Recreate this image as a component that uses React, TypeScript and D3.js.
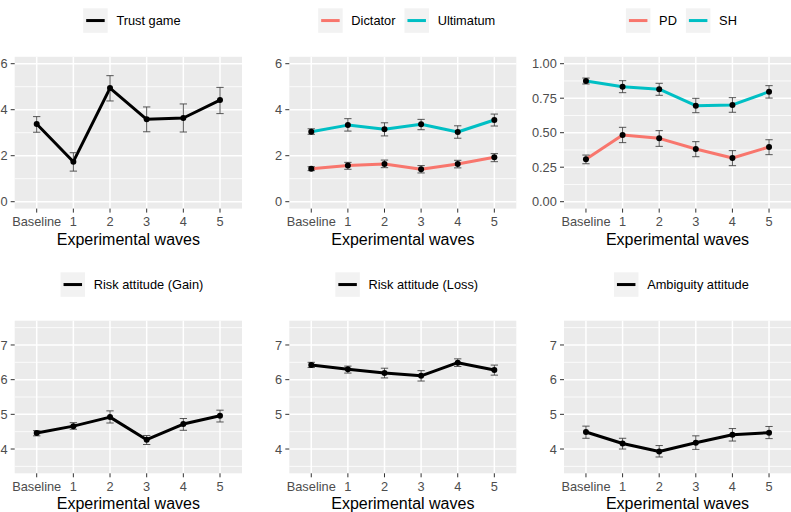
import React from "react";
import * as d3 from "d3";

const waves = ["Baseline", "1", "2", "3", "4", "5"];

// Trust game
const trustMean = [3.38, 1.74, 4.94, 3.58, 3.64, 4.42];
const trustLo = [3.02, 1.33, 4.38, 3.04, 3.03, 3.83];
const trustHi = [3.7, 2.13, 5.48, 4.12, 4.25, 4.97];

// Dictator / Ultimatum
const dictMean = [1.43, 1.57, 1.64, 1.41, 1.64, 1.93];
const dictLo = [1.35, 1.41, 1.48, 1.25, 1.47, 1.74];
const dictHi = [1.52, 1.71, 1.81, 1.57, 1.8, 2.09];
const ultMean = [3.04, 3.33, 3.15, 3.37, 3.03, 3.55];
const ultLo = [2.93, 3.07, 2.86, 3.13, 2.76, 3.29];
const ultHi = [3.17, 3.61, 3.43, 3.58, 3.3, 3.81];

// PD / SH
const pdMean = [0.307, 0.483, 0.459, 0.382, 0.317, 0.396];
const pdLo = [0.275, 0.428, 0.401, 0.326, 0.261, 0.341];
const pdHi = [0.338, 0.539, 0.515, 0.435, 0.37, 0.449];
const shMean = [0.875, 0.833, 0.815, 0.696, 0.701, 0.797];
const shLo = [0.853, 0.79, 0.771, 0.645, 0.648, 0.751];
const shHi = [0.896, 0.877, 0.858, 0.749, 0.754, 0.841];

// Risk attitude (Gain)
const gainMean = [4.46, 4.66, 4.92, 4.27, 4.72, 4.96];
const gainLo = [4.38, 4.57, 4.75, 4.13, 4.54, 4.78];
const gainHi = [4.53, 4.76, 5.1, 4.39, 4.88, 5.12];

// Risk attitude (Loss)
const lossMean = [6.42, 6.3, 6.19, 6.11, 6.49, 6.28];
const lossLo = [6.35, 6.19, 6.05, 5.96, 6.38, 6.13];
const lossHi = [6.5, 6.39, 6.33, 6.26, 6.6, 6.42];

// Ambiguity attitude
const ambMean = [4.49, 4.16, 3.93, 4.18, 4.41, 4.47];
const ambLo = [4.31, 4.0, 3.77, 3.99, 4.23, 4.3];
const ambHi = [4.66, 4.31, 4.1, 4.38, 4.59, 4.65];

const topTicks = [0, 2, 4, 6];
const topMinor = [1, 3, 5];
const propTicks = [0, 0.25, 0.5, 0.75, 1];
const propMinor = [0.125, 0.375, 0.625, 0.875];
const bottomTicks = [4, 5, 6, 7];
const bottomMinor = [3.5, 4.5, 5.5, 6.5, 7.5];

const RED = "#F8766D";
const CYAN = "#00BFC4";
const FONT = "'Liberation Sans', Arial, Helvetica, sans-serif";

type Series = { name: string; color: string; mean: number[]; lo: number[]; hi: number[] };
type PanelDef = {
  x0: number; x1: number; y0: number; y1: number;
  limits: [number, number];
  ticks: number[]; minor: number[]; fmt: (v: number) => string;
  series: Series[];
  legendCenter: number; legendTop: number;
};

const fmtInt = (v: number) => String(v);
const fmt2 = (v: number) => v.toFixed(2);

const panels: PanelDef[] = [
  { x0: 14.7, x1: 242, y0: 56.8, y1: 208.6, limits: [0, 6], ticks: topTicks, minor: topMinor, fmt: fmtInt,
    series: [{ name: "Trust game", color: "#000", mean: trustMean, lo: trustLo, hi: trustHi }],
    legendCenter: 131.9, legendTop: 8.3 },
  { x0: 289.3, x1: 516.3, y0: 56.8, y1: 208.6, limits: [0, 6], ticks: topTicks, minor: topMinor, fmt: fmtInt,
    series: [
      { name: "Dictator", color: RED, mean: dictMean, lo: dictLo, hi: dictHi },
      { name: "Ultimatum", color: CYAN, mean: ultMean, lo: ultLo, hi: ultHi },
    ],
    legendCenter: 406.7, legendTop: 8.3 },
  { x0: 564, x1: 791, y0: 56.8, y1: 208.6, limits: [0, 1], ticks: propTicks, minor: propMinor, fmt: fmt2,
    series: [
      { name: "PD", color: RED, mean: pdMean, lo: pdLo, hi: pdHi },
      { name: "SH", color: CYAN, mean: shMean, lo: shLo, hi: shHi },
    ],
    legendCenter: 681.4, legendTop: 8.3 },
  { x0: 14.7, x1: 242, y0: 320.7, y1: 473.3, limits: [3.5, 7.5], ticks: bottomTicks, minor: bottomMinor, fmt: fmtInt,
    series: [{ name: "Risk attitude (Gain)", color: "#000", mean: gainMean, lo: gainLo, hi: gainHi }],
    legendCenter: 131.9, legendTop: 272.3 },
  { x0: 289.3, x1: 516.3, y0: 320.7, y1: 473.3, limits: [3.5, 7.5], ticks: bottomTicks, minor: bottomMinor, fmt: fmtInt,
    series: [{ name: "Risk attitude (Loss)", color: "#000", mean: lossMean, lo: lossLo, hi: lossHi }],
    legendCenter: 406.7, legendTop: 272.3 },
  { x0: 564, x1: 791, y0: 320.7, y1: 473.3, limits: [3.5, 7.5], ticks: bottomTicks, minor: bottomMinor, fmt: fmtInt,
    series: [{ name: "Ambiguity attitude", color: "#000", mean: ambMean, lo: ambLo, hi: ambHi }],
    legendCenter: 681.4, legendTop: 272.3 },
];

let ctx: CanvasRenderingContext2D | null = null;
function textWidth(s: string, size: number) {
  if (!ctx) ctx = document.createElement("canvas").getContext("2d");
  if (!ctx) return s.length * size * 0.55;
  ctx.font = `${size}px ${FONT}`;
  return ctx.measureText(s).width;
}

const KEY = 24.5;
const KEY_GAP = 8.7;
const ITEM_GAP = 9;
const LEG_FS = 12.8;

function Legend({ p }: { p: PanelDef }) {
  const widths = p.series.map((s) => KEY + KEY_GAP + textWidth(s.name, LEG_FS));
  const total = d3.sum(widths) + ITEM_GAP * (p.series.length - 1);
  let x = p.legendCenter - total / 2;
  const items = p.series.map((s, i) => {
    const gx = x;
    x += widths[i] + ITEM_GAP;
    const cy = p.legendTop + KEY / 2;
    return (
      <g key={s.name}>
        <rect x={gx} y={p.legendTop} width={KEY} height={KEY} fill="#F2F2F2" />
        <line x1={gx + 3} x2={gx + KEY - 3} y1={cy} y2={cy} stroke={s.color} strokeWidth={3} />
        <text x={gx + KEY + KEY_GAP} y={cy + 4.6} fontSize={LEG_FS} fill="#000">{s.name}</text>
      </g>
    );
  });
  return <g>{items}</g>;
}

function Panel({ p }: { p: PanelDef }) {
  const x = d3.scalePoint<string>().domain(waves).range([p.x0, p.x1]).padding(0.6);
  const R = p.limits[1] - p.limits[0];
  const y = d3.scaleLinear().domain([p.limits[0] - 0.05 * R, p.limits[1] + 0.05 * R]).range([p.y1, p.y0]);
  const line = d3.line<number>().x((_, i) => x(waves[i]) as number).y((d) => y(d));
  const capHalf = x.step() * 0.1;
  const cx = (p.x0 + p.x1) / 2;
  return (
    <g>
      <rect x={p.x0} y={p.y0} width={p.x1 - p.x0} height={p.y1 - p.y0} fill="#EBEBEB" />
      {p.minor.map((v) => (
        <line key={"m" + v} x1={p.x0} x2={p.x1} y1={y(v)} y2={y(v)} stroke="#fff" strokeWidth={0.8} />
      ))}
      {p.ticks.map((v) => (
        <line key={"g" + v} x1={p.x0} x2={p.x1} y1={y(v)} y2={y(v)} stroke="#fff" strokeWidth={1.5} />
      ))}
      {waves.map((w) => (
        <line key={"v" + w} x1={x(w)} x2={x(w)} y1={p.y0} y2={p.y1} stroke="#fff" strokeWidth={1.5} />
      ))}
      {p.series.map((s) => (
        <path key={"l" + s.name} d={line(s.mean) || ""} fill="none" stroke={s.color} strokeWidth={3} strokeLinejoin="round" />
      ))}
      {p.series.map((s) =>
        waves.map((w, i) => {
          const px = x(w) as number;
          return (
            <g key={"e" + s.name + w} stroke="#444" strokeWidth={0.9}>
              <line x1={px} x2={px} y1={y(s.lo[i])} y2={y(s.hi[i])} />
              <line x1={px - capHalf} x2={px + capHalf} y1={y(s.lo[i])} y2={y(s.lo[i])} />
              <line x1={px - capHalf} x2={px + capHalf} y1={y(s.hi[i])} y2={y(s.hi[i])} />
            </g>
          );
        })
      )}
      {p.series.map((s) =>
        waves.map((w, i) => <circle key={"p" + s.name + w} cx={x(w)} cy={y(s.mean[i])} r={3} fill="#000" />)
      )}
      {/* y axis */}
      {p.ticks.map((v) => (
        <g key={"yt" + v}>
          <line x1={p.x0 - 4} x2={p.x0} y1={y(v)} y2={y(v)} stroke="#333" strokeWidth={1} />
          <text x={p.x0 - 7.2} y={y(v)} dy="0.36em" textAnchor="end" fontSize={12.8} fill="#4D4D4D">{p.fmt(v)}</text>
        </g>
      ))}
      {/* x axis */}
      {waves.map((w) => (
        <g key={"xt" + w}>
          <line x1={x(w)} x2={x(w)} y1={p.y1} y2={p.y1 + 4} stroke="#333" strokeWidth={1} />
          <text x={x(w)} y={p.y1 + 17.5} textAnchor="middle" fontSize={12.8} fill="#4D4D4D">{w}</text>
        </g>
      ))}
      <text x={cx} y={p.y1 + 36} textAnchor="middle" fontSize={16} fill="#000">Experimental waves</text>
      <Legend p={p} />
    </g>
  );
}

export default function App() {
  return (
    <svg width={791} height={512} style={{ position: "absolute", left: 0, top: 0, fontFamily: FONT, background: "#fff" }}>
      <rect width={791} height={512} fill="#fff" />
      {panels.map((p, i) => (
        <Panel key={i} p={p} />
      ))}
    </svg>
  );
}
